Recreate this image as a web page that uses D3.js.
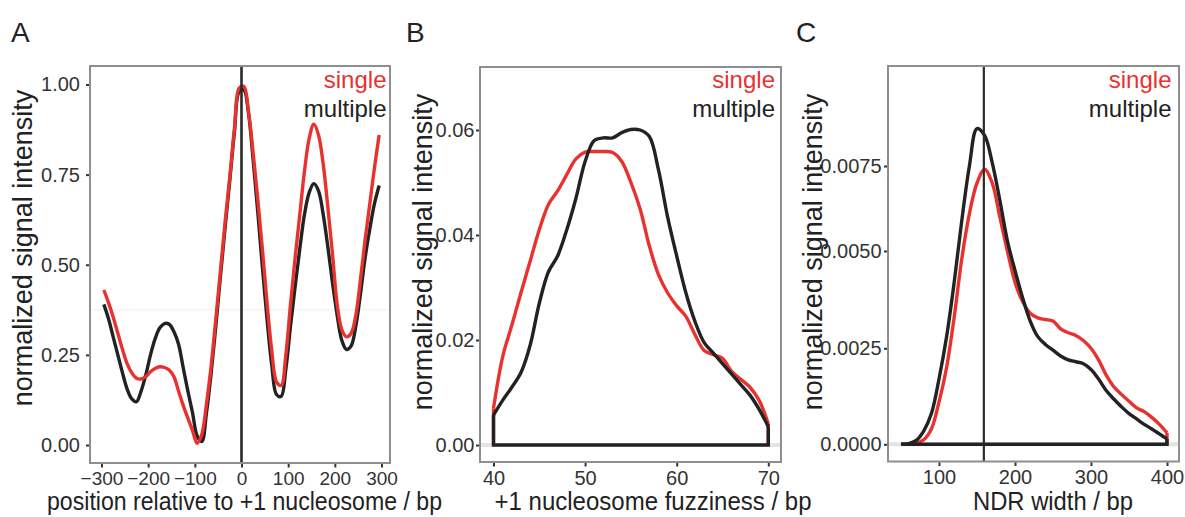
<!DOCTYPE html>
<html><head><meta charset="utf-8">
<script src="https://cdnjs.cloudflare.com/ajax/libs/d3/7.8.5/d3.min.js"></script>
<style>
body{margin:0;background:#fff;}
svg{display:block;font-family:"Liberation Sans",Arial,Helvetica,sans-serif;}
</style></head><body>
<svg id="chart" width="1185" height="517"></svg>
<script>
// ---------- DATA ----------
const seriesNames = ["single", "multiple"];

// Panel A: position relative to +1 nucleosome (bp)
const posA = [-295,-285,-275,-265,-255,-245,-235,-225,-215,-205,-195,-185,-175,-165,-155,-145,-135,-125,-115,-105,-95,-85,-75,-65,-55,-45,-35,-25,-15,-5,
  5,15,25,35,45,55,65,75,85,95,105,115,125,135,145,155,165,175,185,195,205,215,225,235,245,255,265,275,285,295];
const singleA = [0.43,0.395,0.355,0.31,0.265,0.225,0.20,0.185,0.183,0.19,0.203,0.212,0.217,0.215,0.208,0.19,0.15,0.11,0.075,0.04,0.005,0.03,0.115,0.22,0.35,0.485,0.62,0.745,0.88,0.99,
  0.995,0.925,0.81,0.68,0.54,0.39,0.26,0.175,0.165,0.25,0.39,0.52,0.64,0.76,0.85,0.89,0.86,0.78,0.66,0.53,0.39,0.32,0.30,0.31,0.36,0.46,0.57,0.67,0.77,0.86];
const multipleA = [0.39,0.35,0.30,0.25,0.20,0.155,0.128,0.12,0.15,0.195,0.25,0.295,0.325,0.337,0.335,0.315,0.28,0.215,0.15,0.09,0.025,0.01,0.09,0.20,0.33,0.47,0.605,0.735,0.87,0.98,
  0.985,0.92,0.79,0.645,0.49,0.345,0.22,0.14,0.135,0.21,0.33,0.44,0.545,0.64,0.70,0.725,0.705,0.64,0.55,0.45,0.36,0.29,0.265,0.275,0.33,0.42,0.52,0.60,0.67,0.72];

// Panel B: +1 nucleosome fuzziness (bp)
const fuzzB = [40,41,42,43,44,45,46,47,48,49,50,51,52,53,54,55,56,57,58,59,60,61,62,63,64,65,66,67,68,69,70];
const singleB = [0.0070,0.0168,0.0228,0.029,0.035,0.041,0.0458,0.0484,0.0515,0.0545,0.0558,0.0559,0.0559,0.0557,0.054,0.050,0.045,0.038,0.0325,0.029,0.0265,0.0245,0.021,0.018,0.0172,0.0165,0.014,0.0125,0.011,0.0085,0.0040];
const multipleB = [0.0057,0.0085,0.011,0.0138,0.019,0.027,0.033,0.036,0.041,0.047,0.054,0.058,0.0585,0.0585,0.0595,0.0601,0.060,0.0588,0.0525,0.0435,0.036,0.029,0.0235,0.0195,0.0175,0.0155,0.0135,0.0115,0.0095,0.0068,0.0035];

// Panel C: NDR width (bp)
const ndrC = [50,60,70,80,90,100,110,120,130,140,150,160,170,180,190,200,210,220,230,240,250,260,270,280,290,300,310,320,330,340,350,360,370,380,390,400];
const singleC = [0,0,0.00003,0.00012,0.0004,0.0011,0.0020,0.0033,0.0048,0.0061,0.0070,0.0074,0.0070,0.0060,0.0050,0.0042,0.0037,0.0034,0.00328,0.00324,0.0032,0.0030,0.0029,0.00283,0.0027,0.0025,0.0022,0.0018,0.0015,0.0013,0.00112,0.00095,0.00085,0.0007,0.00052,0.0003];
const multipleC = [0,0.00002,0.0001,0.00035,0.0008,0.0017,0.0028,0.0042,0.0059,0.0075,0.0086,0.0084,0.0076,0.0065,0.0053,0.0045,0.0038,0.0032,0.0028,0.0026,0.00245,0.0023,0.0022,0.00215,0.0021,0.00195,0.0017,0.0014,0.00118,0.00098,0.0008,0.00066,0.00052,0.0004,0.00027,0.00014];

const vlineA = 0, vlineC = 159;

const ticksAx = [-300,-200,-100,0,100,200,300], ticksAy = [0,0.25,0.5,0.75,1];
const ticksBx = [40,50,60,70], ticksBy = [0,0.02,0.04,0.06];
const ticksCx = [100,200,300,400], ticksCy = [0,0.0025,0.005,0.0075];

const titlesX = ["position relative to +1 nucleosome / bp", "+1 nucleosome fuzziness / bp", "NDR width / bp"];
const titleY = "normalized signal intensity";
const panelLetters = ["A","B","C"];

// ---------- STYLE / LAYOUT ----------
const RED = "#e8322f", BLACK = "#222222";
const svg = d3.select("#chart");

const panels = [
  { letter: panelLetters[0], lx: 11, box:{l:90,t:66,r:390,b:463},
    x: d3.scaleLinear().domain([-300,300]).range([101.5,381.5]),
    y: d3.scaleLinear().domain([0,1]).range([445,84.5]),
    xs: posA, s: singleA, m: multipleA, closed:false, redOnTop:true,
    tx: ticksAx, ty: ticksAy, fy: d3.format(".2f"), fx: d3.format("d"), pad:6, xfs: 19,
    vline: vlineA, vw: 2.6, grid: 0.375, gridColor:"#f3f3f3", gridW:1.5,
    title: titlesX[0], titleCx: 244.5, titleLen: 395, ytx: 32, yty: 248,
    legX: 386.5 },
  { letter: panelLetters[1], lx: 406, box:{l:480,t:67,r:781,b:462},
    x: d3.scaleLinear().domain([40,70]).range([493.5,768.3]),
    y: d3.scaleLinear().domain([0,0.06]).range([445,130]),
    xs: fuzzB, s: singleB, m: multipleB, closed:true, redOnTop:false,
    tx: ticksBx, ty: ticksBy, fy: d3.format(".2f"), fx: d3.format("d"), pad:1.5, xfs: 20,
    vline: null, grid: 0, gridColor:"#e4e4e4", gridW:4,
    title: titlesX[1], titleCx: 653, titleLen: 317, ytx: 432, yty: 252,
    legX: 775 },
  { letter: panelLetters[2], lx: 796, box:{l:888,t:66,r:1179,b:461.5},
    x: d3.scaleLinear().domain([100,400]).range([939,1167]),
    y: d3.scaleLinear().domain([0,0.0025,0.005,0.0075]).range([444.3,348.3,251,166]),
    xs: ndrC, s: singleC, m: multipleC, closed:true, redOnTop:false,
    tx: ticksCx, ty: ticksCy, fy: d3.format(".4f"), fx: d3.format("d"), pad:2.5, xfs: 20,
    vline: vlineC, vw: 2.2, grid: 0, gridColor:"#e4e4e4", gridW:4,
    title: titlesX[2], titleCx: 1053, titleLen: 160, ytx: 822, yty: 252,
    legX: 1171.5 }
];

panels.forEach((p, i) => {
  const g = svg.append("g");
  const b = p.box;
  const clipId = "clip" + i;
  svg.append("clipPath").attr("id", clipId).append("rect")
    .attr("x", b.l).attr("y", b.t).attr("width", b.r - b.l).attr("height", b.b - b.t);

  g.append("rect").attr("x", b.l).attr("y", b.t).attr("width", b.r - b.l).attr("height", b.b - b.t)
    .attr("fill", "#fff");

  g.append("line").attr("x1", b.l).attr("x2", b.r).attr("y1", p.y(p.grid)).attr("y2", p.y(p.grid))
    .attr("stroke", p.gridColor).attr("stroke-width", p.gridW);

  const plot = g.append("g").attr("clip-path", `url(#${clipId})`);
  const line = d3.line().x(d => p.x(d[0])).y(d => p.y(d[1])).curve(d3.curveCatmullRom.alpha(0.5));
  const lin = d3.line().x(d => p.x(d[0])).y(d => p.y(d[1]));

  const drawSeries = (vals, color, withBase) => {
    const pts = p.xs.map((xv, k) => [xv, vals[k]]);
    plot.append("path").attr("d", line(pts)).attr("fill", "none")
      .attr("stroke", color).attr("stroke-width", 3.4)
      .attr("stroke-linejoin", "round").attr("stroke-linecap", "butt");
    if (p.closed) {
      const x0 = p.xs[0], x1 = p.xs[p.xs.length - 1];
      const segs = withBase
        ? [[[x1, vals[vals.length - 1]], [x1, 0], [x0, 0], [x0, vals[0]]]]
        : [[[x1, vals[vals.length - 1]], [x1, 0]], [[x0, 0], [x0, vals[0]]]];
      segs.forEach(sg => plot.append("path").attr("d", lin(sg)).attr("fill", "none")
        .attr("stroke", color).attr("stroke-width", 3.4)
        .attr("stroke-linejoin", "miter").attr("stroke-linecap", "butt"));
    }
  };
  if (p.redOnTop) { drawSeries(p.m, BLACK, true); drawSeries(p.s, RED, false); }
  else { drawSeries(p.s, RED, false); drawSeries(p.m, BLACK, true); }

  if (p.vline !== null) {
    plot.append("line").attr("x1", p.x(p.vline)).attr("x2", p.x(p.vline))
      .attr("y1", b.t).attr("y2", b.b).attr("stroke", "#2a2a2a").attr("stroke-width", p.vw);
  }

  g.append("rect").attr("x", b.l).attr("y", b.t).attr("width", b.r - b.l).attr("height", b.b - b.t)
    .attr("fill", "none").attr("stroke", "#8e8e8e").attr("stroke-width", 2);

  const ax = g.append("g").attr("transform", `translate(0,${b.b + 1})`)
    .call(d3.axisBottom(p.x).tickValues(p.tx).tickFormat(p.fx).tickSize(3.5).tickPadding(4));
  const ay = g.append("g").attr("transform", `translate(${b.l - 1},0)`)
    .call(d3.axisLeft(p.y).tickValues(p.ty).tickFormat(p.fy).tickSize(3).tickPadding(p.pad));
  [ax, ay].forEach(a => {
    a.select(".domain").remove();
    a.selectAll(".tick line").attr("stroke", "#333").attr("stroke-width", 2);
    a.selectAll(".tick text").attr("font-size", 20).attr("fill", "#333")
      .attr("font-family", "'Liberation Sans',Arial,Helvetica,sans-serif");
  });
  ax.selectAll(".tick text").attr("font-size", p.xfs);

  g.append("text").attr("x", p.titleCx).attr("y", 510).attr("text-anchor", "middle")
    .attr("font-size", 25).attr("fill", "#222")
    .attr("textLength", p.titleLen).attr("lengthAdjust", "spacingAndGlyphs")
    .text(p.title);
  g.append("text").attr("transform", `translate(${p.ytx},${p.yty}) rotate(-90)`)
    .attr("text-anchor", "middle").attr("font-size", 27).attr("fill", "#222")
    .text(titleY);

  g.append("text").attr("x", p.legX).attr("y", 88).attr("text-anchor", "end")
    .attr("font-size", 24).attr("fill", RED).text(seriesNames[0]);
  g.append("text").attr("x", p.legX).attr("y", 117).attr("text-anchor", "end")
    .attr("font-size", 24).attr("fill", BLACK).text(seriesNames[1]);

  g.append("text").attr("x", p.lx).attr("y", 42).attr("font-size", 28).attr("fill", "#222")
    .text(p.letter);
});
</script>
</body></html>
